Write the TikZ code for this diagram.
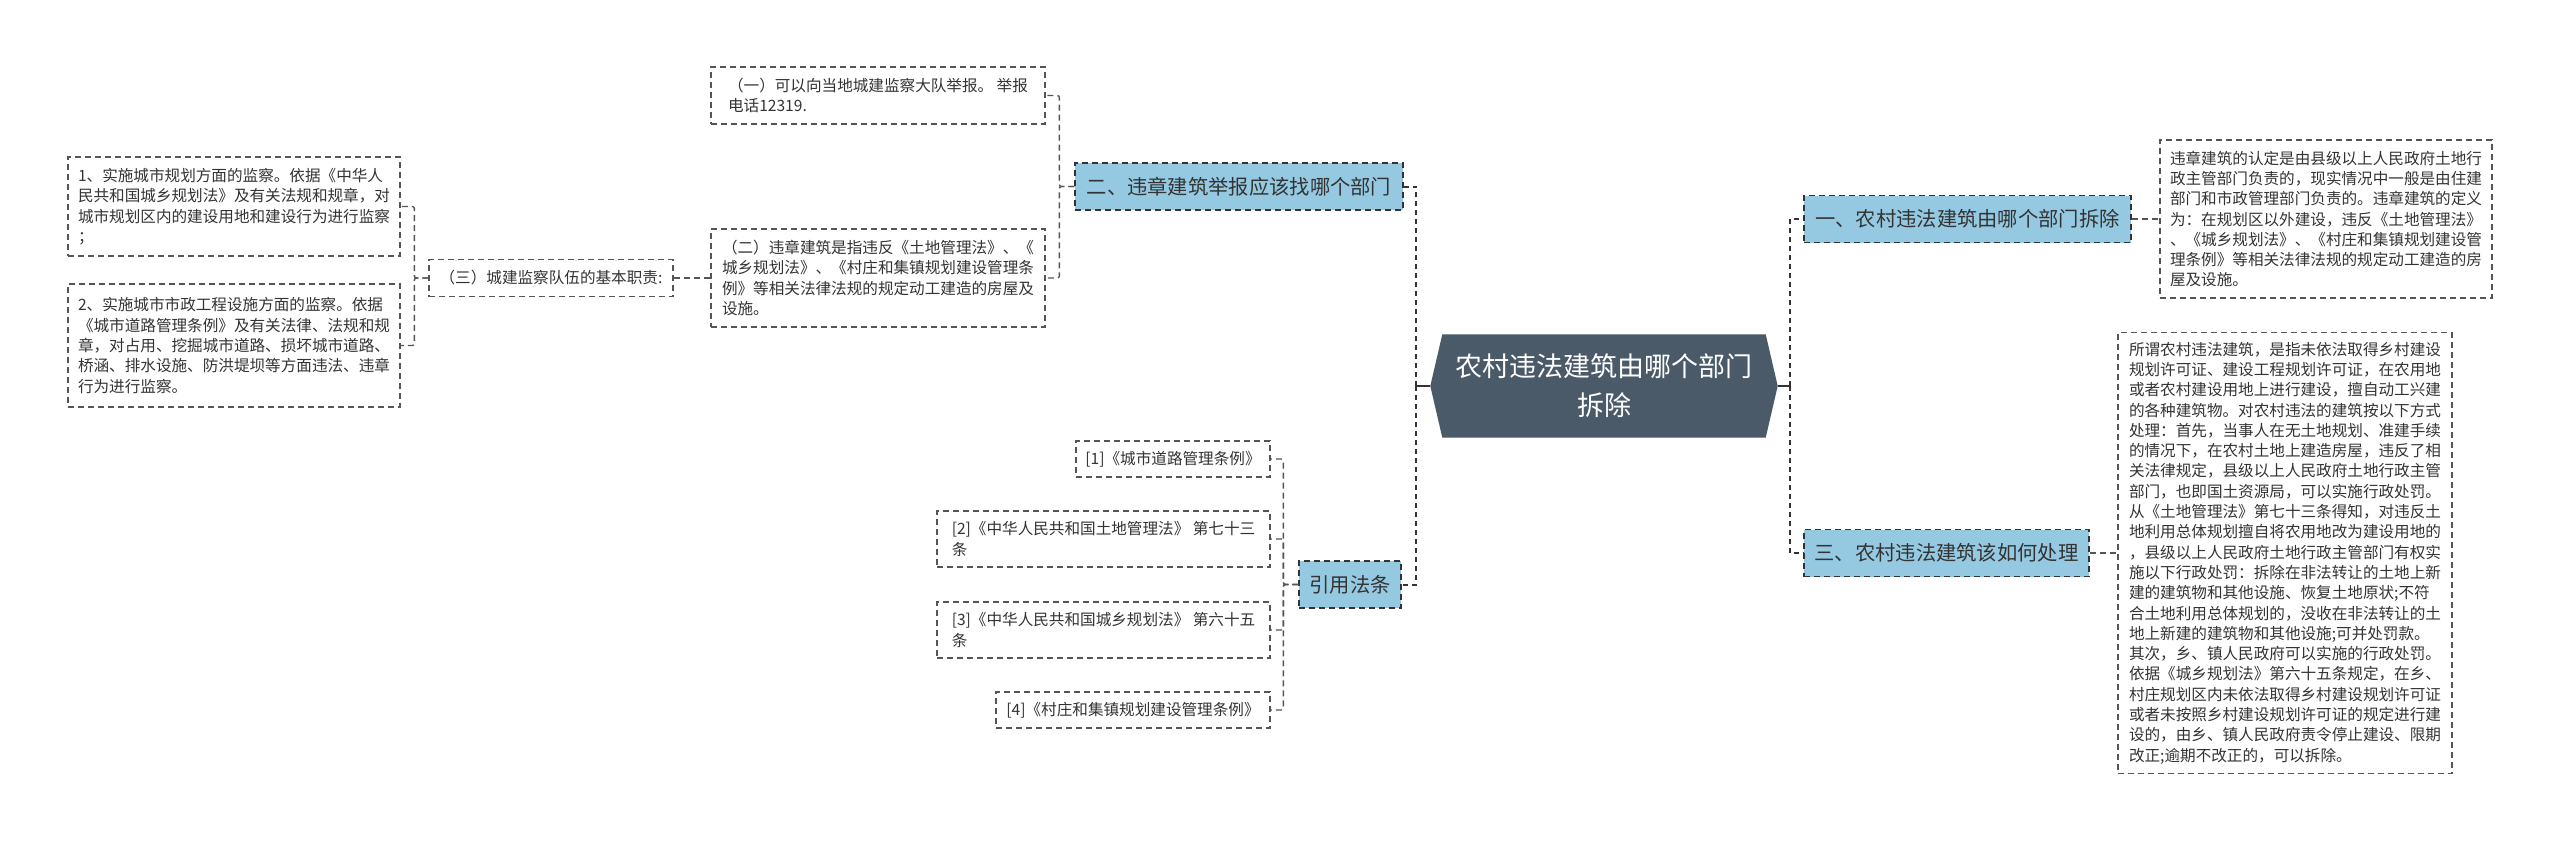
\documentclass[tikz,border=0pt]{standalone}
\usepackage{fontspec}
\setmainfont{Noto Sans CJK SC}
\usepackage{xcolor}
\usepackage{tikz}
\usetikzlibrary{backgrounds}

\definecolor{rootfill}{HTML}{4A5A68}
\definecolor{topicfill}{HTML}{94C9E1}
\definecolor{linegray}{HTML}{555555}
\definecolor{textgray}{HTML}{333333}

\begin{document}
\begin{tikzpicture}[
  x=1pt, y=-1pt,
  root/.style={minimum width=347pt, minimum height=103pt, inner sep=0pt, align=center, text=white, font=\fontsize{27pt}{39pt}\selectfont},
  topic/.style={draw=textgray, line width=1.3pt, dash pattern=on 6pt off 4pt, fill=topicfill, minimum height=47pt, inner xsep=9pt, text=textgray, font=\fontsize{20.3pt}{26pt}\selectfont},
  leaf/.style={draw=linegray, line width=1.3pt, dash pattern=on 6pt off 4pt, align=left, inner xsep=8pt, text=textgray, font=\fontsize{15.6pt}{20.3pt}\selectfont},
  stem/.style={draw=textgray, line width=2pt},
  spine/.style={draw=textgray, line width=2pt, dash pattern=on 5pt off 4pt},
  link/.style={draw=linegray, line width=1.4pt, dash pattern=on 6pt off 4pt, rounded corners=2pt},
]
\path[use as bounding box] (0,0) rectangle (2560,843);

% Nodes
\node[root] (root) at (1604,386) {农村违法建筑由哪个部门\\拆除};

\node[topic, minimum width=327pt] (t1) at (1967.5,219) {一、农村违法建筑由哪个部门拆除};
\node[topic, minimum width=285pt] (t3) at (1946.5,553) {三、农村违法建筑该如何处理};
\node[topic, minimum width=328pt] (t2) at (1239,186.5) {二、违章建筑举报应该找哪个部门};
\node[topic, minimum width=102pt] (cite) at (1350,584.5) {引用法条};

\node[leaf, minimum width=332pt, minimum height=158pt] (d1) at (2326,219) {违章建筑的认定是由县级以上人民政府土地行\\政主管部门负责的，现实情况中一般是由住建\\部门和市政管理部门负责的。违章建筑的定义\\为：在规划区以外建设，违反《土地管理法》\\、《城乡规划法》、《村庄和集镇规划建设管\\理条例》等相关法律法规的规定动工建造的房\\屋及设施。};
\node[leaf, minimum width=334pt, minimum height=441pt] (d3) at (2285,553) {所谓农村违法建筑，是指未依法取得乡村建设\\规划许可证、建设工程规划许可证，在农用地\\或者农村建设用地上进行建设，擅自动工兴建\\的各种建筑物。对农村违法的建筑按以下方式\\处理：首先，当事人在无土地规划、准建手续\\的情况下，在农村土地上建造房屋，违反了相\\关法律规定，县级以上人民政府土地行政主管\\部门，也即国土资源局，可以实施行政处罚。\\从《土地管理法》第七十三条得知，对违反土\\地利用总体规划擅自将农用地改为建设用地的\\，县级以上人民政府土地行政主管部门有权实\\施以下行政处罚：拆除在非法转让的土地上新\\建的建筑物和其他设施、恢复土地原状;不符\\合土地利用总体规划的，没收在非法转让的土\\地上新建的建筑物和其他设施;可并处罚款。\\其次，乡、镇人民政府可以实施的行政处罚。\\依据《城乡规划法》第六十五条规定，在乡、\\村庄规划区内未依法取得乡村建设规划许可证\\或者未按照乡村建设规划许可证的规定进行建\\设的，由乡、镇人民政府责令停止建设、限期\\改正;逾期不改正的，可以拆除。};

\node[leaf, minimum width=334pt, minimum height=57pt] (r1) at (878,95.5) {（一）可以向当地城建监察大队举报。 举报\\电话12319.};
\node[leaf, minimum width=334pt, minimum height=98pt] (r2) at (878,278) {（二）违章建筑是指违反《土地管理法》、《\\城乡规划法》、《村庄和集镇规划建设管理条\\例》等相关法律法规的规定动工建造的房屋及\\设施。};
\node[leaf, minimum width=244pt, minimum height=37pt] (r3) at (551,278) {（三）城建监察队伍的基本职责:};
\node[leaf, minimum width=332pt, minimum height=99pt] (duty1) at (234,206.5) {1、实施城市规划方面的监察。依据《中华人\\民共和国城乡规划法》及有关法规和规章，对\\城市规划区内的建设用地和建设行为进行监察\\；};
\node[leaf, minimum width=332pt, minimum height=123pt] (duty2) at (234,345.5) {2、实施城市市政工程设施方面的监察。依据\\《城市道路管理条例》及有关法律、法规和规\\章，对占用、挖掘城市道路、损坏城市道路、\\桥涵、排水设施、防洪堤坝等方面违法、违章\\行为进行监察。};

\node[leaf, minimum width=194pt, minimum height=36pt] (law1) at (1173,459) {[1]《城市道路管理条例》};
\node[leaf, minimum width=333pt, minimum height=56pt] (law2) at (1103.5,539) {[2]《中华人民共和国土地管理法》 第七十三\\条};
\node[leaf, minimum width=333pt, minimum height=56pt] (law3) at (1103.5,630) {[3]《中华人民共和国城乡规划法》 第六十五\\条};
\node[leaf, minimum width=274pt, minimum height=36pt] (law4) at (1133,710) {[4]《村庄和集镇规划建设管理条例》};

% Root shape
\begin{scope}[on background layer]
\fill[white] (0,0) rectangle (2560,843);
\fill[rootfill] ([xshift=12pt]root.north west) -- ([xshift=-12pt]root.north east) -- (root.east) -- ([xshift=-12pt]root.south east) -- ([xshift=12pt]root.south west) -- (root.west) -- cycle;
\end{scope}

% Connectors
\draw[stem] (root.east) -- ++(12,0) coordinate (rj);
\draw[spine] (rj) |- (t1.west);
\draw[spine] (rj) |- (t3.west);
\draw[stem] (root.west) -- ++(-14,0) coordinate (lj);
\draw[spine] (lj) |- (t2.east);
\draw[spine] (lj) |- (cite.east);

\draw[link] (t1.east) -- (d1.west);
\draw[link] (t3.east) -- (d3.west);
\draw[link] (t2.west) -- ++(-15,0) |- (r1.east);
\draw[link] (t2.west) -- ++(-15,0) |- (r2.east);
\draw[link] (r2.west) -- (r3.east);
\draw[link] (r3.west) -- ++(-14,0) |- (duty1.east);
\draw[link] (r3.west) -- ++(-14,0) |- (duty2.east);
\draw[link] (cite.west) -- ++(-15,0) |- (law1.east);
\draw[link] (cite.west) -- ++(-15,0) |- (law2.east);
\draw[link] (cite.west) -- ++(-15,0) |- (law3.east);
\draw[link] (cite.west) -- ++(-15,0) |- (law4.east);

\end{tikzpicture}
\end{document}
